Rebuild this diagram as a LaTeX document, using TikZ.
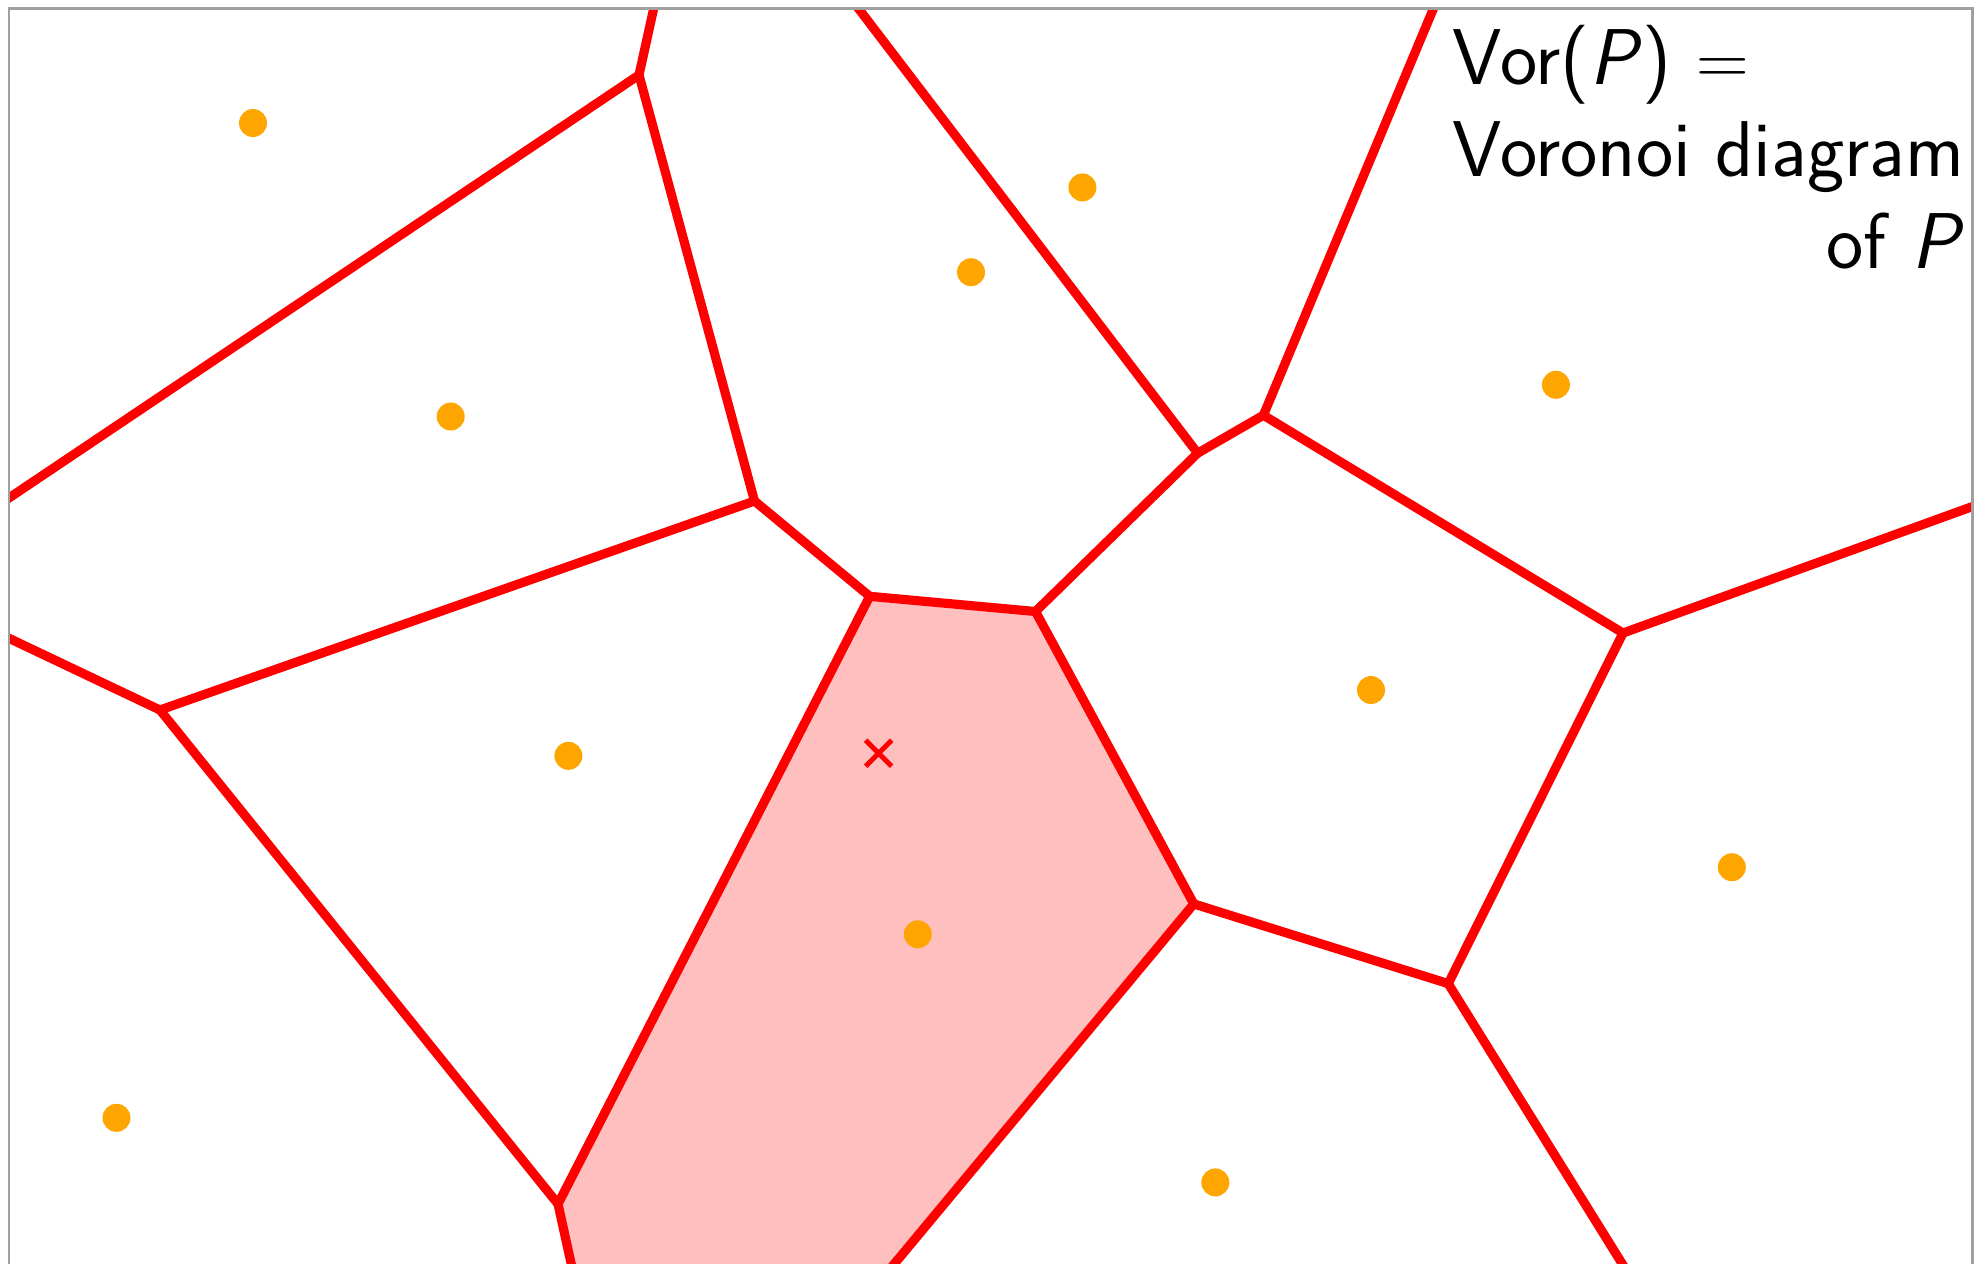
\documentclass[tikz,border=0pt]{standalone}
\definecolor{framegray}{RGB}{160,160,160}
\definecolor{cellpink}{RGB}{255,191,191}
\definecolor{siteorange}{RGB}{255,165,0}
\begin{document}
\begin{tikzpicture}[x=0.01cm,y=-0.01cm,
  edge/.style={red, line width=2.6pt, line join=round},
  site/.style={fill=siteorange},
  framestyle/.style={framegray, line width=0.85pt}]
\useasboundingbox (0,0) rectangle (1985,1263);
% Voronoi vertices
\coordinate (A) at (639,75);
\coordinate (B) at (754.5,501);
\coordinate (C) at (869.7,596.3);
\coordinate (D) at (1035.5,611.5);
\coordinate (E) at (1197.6,453.2);
\coordinate (F) at (1263.4,415.2);
\coordinate (G) at (1623,633);
\coordinate (H) at (1193.8,903.9);
\coordinate (I) at (1448.2,983.6);
\coordinate (J) at (160,710);
\coordinate (K) at (558,1204);
% far ends of unbounded edges
\coordinate (At) at (656,-2);
\coordinate (Al) at (0,504);
\coordinate (Jl) at (0,634);
\coordinate (Kb) at (573,1272);
\coordinate (Et) at (852,0);
\coordinate (Ft) at (1437,0);
\coordinate (Gr) at (1985,502);
\coordinate (Hb) at (887.5,1272);
\coordinate (Ib) at (1627.3,1272);
\begin{scope}
\clip (9,8.5) rectangle (1972.5,1263);
\fill[cellpink] (C) -- (D) -- (H) -- (Hb) -- (Kb) -- (K) -- cycle;
\draw[edge] (At) -- (A);
\draw[edge] (Al) -- (A);
\draw[edge] (A) -- (B);
\draw[edge] (B) -- (C);
\draw[edge] (B) -- (J);
\draw[edge] (Jl) -- (J);
\draw[edge] (J) -- (K);
\draw[edge] (K) -- (C);
\draw[edge] (K) -- (Kb);
\draw[edge] (C) -- (D);
\draw[edge] (D) -- (E);
\draw[edge] (E) -- (Et);
\draw[edge] (E) -- (F);
\draw[edge] (F) -- (Ft);
\draw[edge] (F) -- (G);
\draw[edge] (G) -- (Gr);
\draw[edge] (G) -- (I);
\draw[edge] (I) -- (H);
\draw[edge] (H) -- (D);
\draw[edge] (H) -- (Hb);
\draw[edge] (I) -- (Ib);
\end{scope}
\draw[framestyle] (9,1270) -- (9,8.5) -- (1972.5,8.5) -- (1972.5,1270);
% sites
\foreach \p in {(253,123),(450.7,416.5),(971,272.2),(1082.4,187.4),(1555.9,384.8),(1371,690),(568.4,755.8),(917.8,934.3),(1731.8,867.2),(116.5,1117.8),(1215.3,1182.4)}
  \fill[site] \p circle[radius=14];
% query point
\coordinate (Q) at (878.6,753.2);
\draw[red, line width=1.4pt] ([shift={(-13,-13)}]Q) -- ([shift={(13,13)}]Q)
  ([shift={(-13,13)}]Q) -- ([shift={(13,-13)}]Q);
% label
\node[anchor=base west, inner sep=0pt, font=\sffamily\fontsize{22.5}{26.3}\selectfont] (lbl) at (1452,84)
  {\begin{tabular}[t]{@{}l@{}}Vor(\textit{P}) $=$\\ Voronoi diagram\\ \multicolumn{1}{@{}r@{}}{of \textit{P}}\end{tabular}};
\end{tikzpicture}
\end{document}
